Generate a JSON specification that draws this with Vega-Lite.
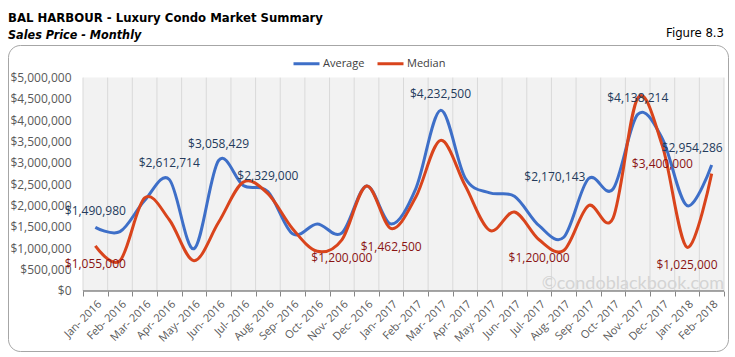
{
  "$schema": "https://vega.github.io/schema/vega-lite/v6.json",
  "width": 720,
  "height": 306,
  "padding": {"left": 8, "top": 11, "right": 7, "bottom": 5},
  "background": "white",
  "title": {
    "text": "BAL HARBOUR - Luxury Condo Market Summary",
    "subtitle": "Sales Price - Monthly",
    "anchor": "start",
    "frame": "bounds",
    "font": "DejaVu Sans Condensed, Liberation Sans, sans-serif",
    "fontSize": 13,
    "fontWeight": "bold",
    "color": "#000000",
    "subtitleFont": "DejaVu Sans Condensed, Liberation Sans, sans-serif",
    "subtitleFontSize": 12.5,
    "subtitleFontWeight": "bold",
    "subtitleFontStyle": "italic",
    "subtitleColor": "#000000",
    "subtitlePadding": 4,
    "offset": -14
  },
  "config": {
    "view": {"stroke": "#A6A6A6", "strokeWidth": 1, "cornerRadius": 12, "fill": "white"},
    "font": "Open Sans",
    "axisY": {"domain": false, "ticks": false, "tickSize": 0, "grid": false, "labelFont": "Open Sans", "labelFontSize": 12, "labelColor": "#595959", "labelPadding": 0, "offset": -63},
    "axisX": {"domain": false, "grid": false, "tickBand": "extent", "tickSize": 5, "tickColor": "#868686", "labelAngle": -45, "labelFont": "Open Sans", "labelFontSize": 11, "labelColor": "#595959", "labelPadding": 2, "offset": -60},
    "legend": {"orient": "none", "legendX": 284, "legendY": 4, "direction": "horizontal", "symbolType": "stroke", "symbolStrokeWidth": 3, "symbolSize": 676, "labelFont": "Open Sans", "labelFontSize": 11, "labelColor": "#404040", "columnPadding": 6, "labelOffset": 2}
  },
  "data": {"values": [
    {"month": "Jan- 2016", "series": "Average", "price": 1490980, "label": "$1,490,980"},
    {"month": "Feb- 2016", "series": "Average", "price": 1390000},
    {"month": "Mar- 2016", "series": "Average", "price": 2120000},
    {"month": "Apr- 2016", "series": "Average", "price": 2612714, "label": "$2,612,714"},
    {"month": "May- 2016", "series": "Average", "price": 990000},
    {"month": "Jun- 2016", "series": "Average", "price": 3058429, "label": "$3,058,429"},
    {"month": "Jul- 2016", "series": "Average", "price": 2470000},
    {"month": "Aug- 2016", "series": "Average", "price": 2329000, "label": "$2,329,000"},
    {"month": "Sep- 2016", "series": "Average", "price": 1340000},
    {"month": "Oct- 2016", "series": "Average", "price": 1570000},
    {"month": "Nov- 2016", "series": "Average", "price": 1360000},
    {"month": "Dec- 2016", "series": "Average", "price": 2460000},
    {"month": "Jan- 2017", "series": "Average", "price": 1570000},
    {"month": "Feb- 2017", "series": "Average", "price": 2400000},
    {"month": "Mar- 2017", "series": "Average", "price": 4232500, "label": "$4,232,500"},
    {"month": "Apr- 2017", "series": "Average", "price": 2650000},
    {"month": "May- 2017", "series": "Average", "price": 2300000},
    {"month": "Jun- 2017", "series": "Average", "price": 2220000},
    {"month": "Jul- 2017", "series": "Average", "price": 1530000},
    {"month": "Aug- 2017", "series": "Average", "price": 1260000},
    {"month": "Sep- 2017", "series": "Average", "price": 2630000, "label": "$2,170,143"},
    {"month": "Oct- 2017", "series": "Average", "price": 2390000},
    {"month": "Nov- 2017", "series": "Average", "price": 4138214, "label": "$4,138,214"},
    {"month": "Dec- 2017", "series": "Average", "price": 3570000},
    {"month": "Jan- 2018", "series": "Average", "price": 2000000},
    {"month": "Feb- 2018", "series": "Average", "price": 2954286, "label": "$2,954,286"},
    {"month": "Jan- 2016", "series": "Median", "price": 1055000, "label": "$1,055,000"},
    {"month": "Feb- 2016", "series": "Median", "price": 710000},
    {"month": "Mar- 2016", "series": "Median", "price": 2180000},
    {"month": "Apr- 2016", "series": "Median", "price": 1670000},
    {"month": "May- 2016", "series": "Median", "price": 710000},
    {"month": "Jun- 2016", "series": "Median", "price": 1610000},
    {"month": "Jul- 2016", "series": "Median", "price": 2550000},
    {"month": "Aug- 2016", "series": "Median", "price": 2280000},
    {"month": "Sep- 2016", "series": "Median", "price": 1460000},
    {"month": "Oct- 2016", "series": "Median", "price": 930000},
    {"month": "Nov- 2016", "series": "Median", "price": 1200000, "label": "$1,200,000"},
    {"month": "Dec- 2016", "series": "Median", "price": 2460000},
    {"month": "Jan- 2017", "series": "Median", "price": 1462500, "label": "$1,462,500"},
    {"month": "Feb- 2017", "series": "Median", "price": 2200000},
    {"month": "Mar- 2017", "series": "Median", "price": 3530000},
    {"month": "Apr- 2017", "series": "Median", "price": 2470000},
    {"month": "May- 2017", "series": "Median", "price": 1420000},
    {"month": "Jun- 2017", "series": "Median", "price": 1850000},
    {"month": "Jul- 2017", "series": "Median", "price": 1200000, "label": "$1,200,000"},
    {"month": "Aug- 2017", "series": "Median", "price": 950000},
    {"month": "Sep- 2017", "series": "Median", "price": 2000000},
    {"month": "Oct- 2017", "series": "Median", "price": 1710000},
    {"month": "Nov- 2017", "series": "Median", "price": 4520000},
    {"month": "Dec- 2017", "series": "Median", "price": 3400000, "label": "$3,400,000"},
    {"month": "Jan- 2018", "series": "Median", "price": 1025000, "label": "$1,025,000"},
    {"month": "Feb- 2018", "series": "Median", "price": 2750000}
  ]},
  "encoding": {
    "x": {"field": "month", "type": "ordinal", "sort": null, "title": null,
          "scale": {"type": "band", "paddingInner": 0, "paddingOuter": 0, "range": [75, 716]}},
    "y": {"field": "price", "type": "quantitative", "title": null,
          "scale": {"domain": [-1406000, 5764000], "zero": false, "nice": false},
          "axis": {"values": [0, 500000, 1000000, 1500000, 2000000, 2500000, 3000000, 3500000, 4000000, 4500000, 5000000], "format": "$,.0f"}}
  },
  "layer": [
    {
      "transform": [{"filter": "datum.series == 'Average'"}],
      "mark": {"type": "rect", "fill": "#F2F2F2"},
      "encoding": {"y": {"datum": 0, "type": "quantitative"}, "y2": {"datum": 5000000}}
    },
    {
      "transform": [{"filter": "datum.series == 'Average'"}],
      "mark": {"type": "rule", "stroke": "#D9D9D9", "strokeWidth": 1},
      "encoding": {"x": {"field": "month", "type": "ordinal", "sort": null, "bandPosition": 0}, "y": {"datum": 0, "type": "quantitative"}, "y2": {"datum": 5000000}}
    },
    {
      "transform": [{"filter": "datum.series == 'Average' && datum.month == 'Feb- 2018'"}],
      "mark": {"type": "rule", "stroke": "#D9D9D9", "strokeWidth": 1},
      "encoding": {"x": {"field": "month", "type": "ordinal", "sort": null, "bandPosition": 1}, "y": {"datum": 0, "type": "quantitative"}, "y2": {"datum": 5000000}}
    },
    {
      "transform": [{"filter": "datum.series == 'Average'"}],
      "mark": {"type": "rect", "fill": null, "stroke": "#868686", "strokeWidth": 1},
      "encoding": {"y": {"datum": 0, "type": "quantitative"}, "y2": {"datum": 0}}
    },
    {
      "transform": [{"filter": "datum.series == 'Average' && datum.month == 'Feb- 2018'"}],
      "mark": {"type": "text", "text": "©condoblackbook.com", "align": "right", "baseline": "bottom", "font": "Lato", "fontSize": 18, "color": "#D4D4D4", "dy": 2},
      "encoding": {"x": {"field": "month", "type": "ordinal", "sort": null, "bandPosition": 1}, "y": {"datum": 0, "type": "quantitative"}}
    },
    {
      "mark": {"type": "line", "interpolate": "cardinal", "strokeWidth": 3},
      "encoding": {
        "x": {"field": "month", "type": "ordinal", "sort": null, "bandPosition": 0.5},
        "color": {"field": "series", "type": "nominal", "title": null,
                  "scale": {"domain": ["Average", "Median"], "range": ["#3E6FC8", "#D9441C"]}}
      }
    },
    {
      "transform": [{"filter": "datum.series == 'Average' && isValid(datum.label) && datum.month != 'Sep- 2017' && datum.month != 'Feb- 2018'"}],
      "mark": {"type": "text", "font": "Open Sans", "fontSize": 12, "color": "#243B5C", "align": "center", "baseline": "middle", "dy": -16},
      "encoding": {"x": {"field": "month", "type": "ordinal", "sort": null, "bandPosition": 0.5}, "text": {"field": "label"}}
    },
    {
      "transform": [{"filter": "datum.series == 'Average' && datum.month == 'Sep- 2017'"}],
      "mark": {"type": "text", "font": "Open Sans", "fontSize": 12, "color": "#243B5C", "align": "right", "baseline": "middle", "dx": -3, "dy": -2},
      "encoding": {"x": {"field": "month", "type": "ordinal", "sort": null, "bandPosition": 0.5}, "text": {"field": "label"}}
    },
    {
      "transform": [{"filter": "datum.series == 'Average' && datum.month == 'Feb- 2018'"}],
      "mark": {"type": "text", "font": "Open Sans", "fontSize": 12, "color": "#243B5C", "align": "right", "baseline": "middle", "dx": 11, "dy": -17},
      "encoding": {"x": {"field": "month", "type": "ordinal", "sort": null, "bandPosition": 0.5}, "text": {"field": "label"}}
    },
    {
      "transform": [{"filter": "datum.series == 'Median' && isValid(datum.label)"}],
      "mark": {"type": "text", "font": "Open Sans", "fontSize": 12, "color": "#8A1414", "align": "center", "baseline": "middle", "dy": 18},
      "encoding": {"x": {"field": "month", "type": "ordinal", "sort": null, "bandPosition": 0.5}, "text": {"field": "label"}}
    },
    {
      "transform": [{"filter": "datum.series == 'Average' && datum.month == 'Feb- 2018'"}],
      "mark": {"type": "text", "text": "Figure 8.3", "align": "right", "baseline": "middle", "font": "DejaVu Sans Condensed, Liberation Sans, sans-serif", "fontSize": 13, "color": "#000000", "dx": 0},
      "encoding": {"x": {"field": "month", "type": "ordinal", "sort": null, "bandPosition": 1}, "y": {"datum": 6045000, "type": "quantitative"}}
    }
  ]
}
